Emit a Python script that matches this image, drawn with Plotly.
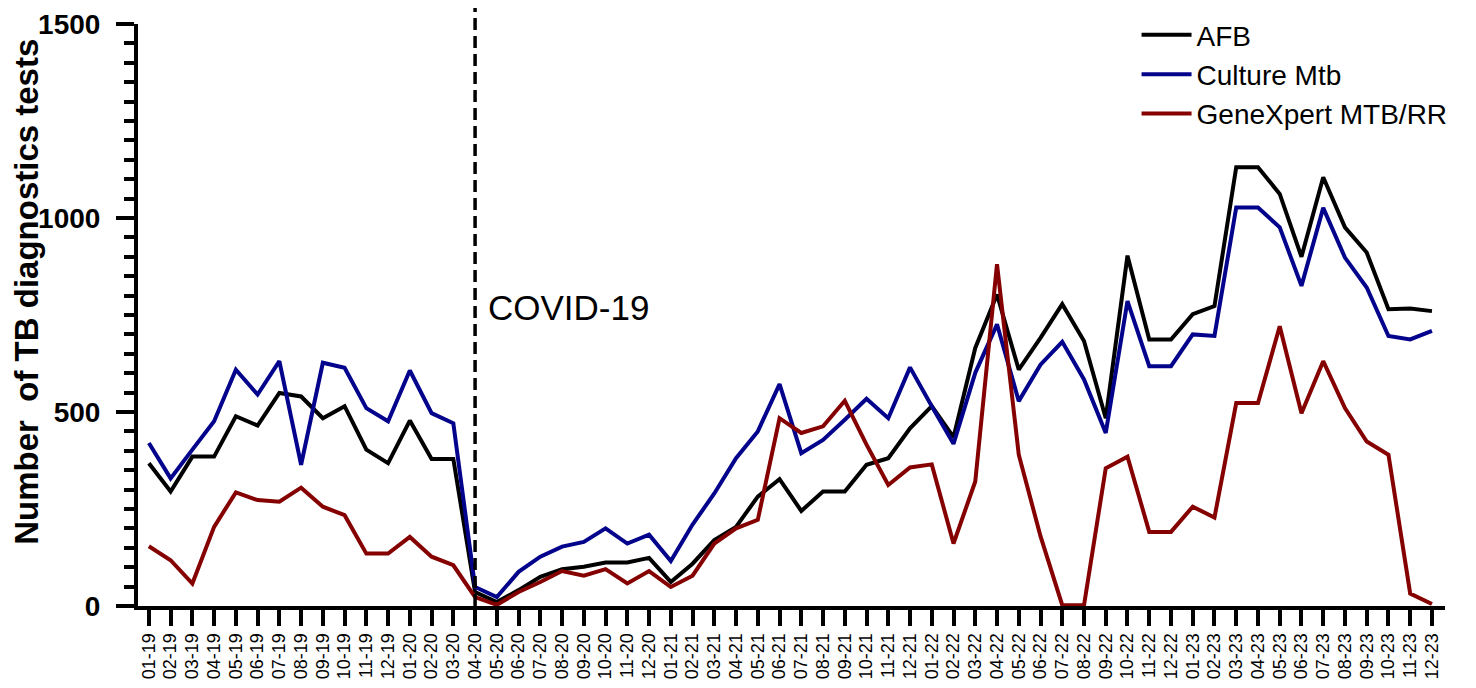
import plotly.graph_objects as go

# months Jan 2019 .. Dec 2023 (MM-YY)
months = [f"{m:02d}-{y}" for y in range(19, 24) for m in range(1, 13)]

afb = [368, 295, 385, 385, 489, 465, 549, 540, 484, 515, 403, 368,
       478, 379, 379, 36, 10, 41, 75, 95, 101, 112, 112, 124,
       62, 109, 170, 204, 282, 327, 245, 295, 295, 364, 381, 458,
       515, 435, 665, 803, 609, 691, 778, 683, 484, 903, 687, 687,
       752, 773, 1131, 1131, 1062, 900, 1105, 976, 911, 765, 767, 760]

culture = [420, 329, 403, 476, 609, 545, 631, 364, 627, 614, 510, 476,
           607, 497, 471, 49, 23, 88, 127, 153, 165, 200, 161, 184,
           116, 210, 290, 381, 450, 572, 394, 428, 480, 534, 484, 615,
           515, 418, 601, 726, 528, 622, 681, 584, 446, 786, 618, 618,
           700, 696, 1027, 1027, 976, 825, 1026, 898, 821, 696, 687, 709]

genexpert = [154, 118, 58, 204, 293, 273, 269, 305, 256, 234, 135, 135,
             178, 127, 105, 23, 3, 36, 62, 90, 78, 95, 58, 90,
             49, 78, 161, 200, 222, 484, 446, 463, 529, 416, 312, 357,
             365, 161, 321, 881, 390, 180, 2, 2, 355, 385, 191, 191,
             256, 228, 523, 523, 721, 497, 631, 510, 424, 390, 32, 5]

covidMonth = "04-20"
covidLabel = "COVID-19"

series = [
    ("AFB", afb, "#000000"),
    ("Culture Mtb", culture, "#03038c"),
    ("GeneXpert MTB/RR", genexpert, "#850000"),
]

font = "Arial, Liberation Sans, sans-serif"

fig = go.Figure()
for name, values, color in series:
    fig.add_trace(go.Scatter(
        x=months, y=values, name=name, mode="lines",
        line=dict(color=color, width=4)
    ))

# dashed marker for the start of the pandemic
covidIdx = months.index(covidMonth)
fig.add_shape(type="line", xref="x", yref="paper",
              x0=covidIdx, x1=covidIdx, y0=0, y1=1.036,
              line=dict(color="black", width=3.5, dash="12px,6px"))

fig.add_annotation(x=covidMonth, y=770, text=covidLabel, showarrow=False,
                   xanchor="left", yanchor="middle", xshift=11,
                   font=dict(size=35, color="black", family=font))

# y title placed by hand (it sits a bit above centre in the original)
fig.add_annotation(xref="paper", yref="paper", x=-0.0849, y=0.54,
                   text="Number\u00a0 of TB diagnostics tests",
                   textangle=-90, showarrow=False,
                   xanchor="center", yanchor="middle",
                   font=dict(size=33, color="black", family=font, weight="bold"))

# page body has an 8px margin, so the figure is 16px smaller than the window
fig.update_layout(
    width=1460, height=672,
    margin=dict(l=130, r=23, t=16, b=74, autoexpand=False),
    paper_bgcolor="white", plot_bgcolor="white",
    font=dict(family=font, color="black"),
    showlegend=True,
    legend=dict(x=0.764, y=1.024, xanchor="left", yanchor="top",
                itemwidth=50,
                bgcolor="rgba(0,0,0,0)", font=dict(size=28, color="black")),
)

fig.update_xaxes(
    type="category", range=[-0.5, 59.6],
    tickmode="linear", tick0=0, dtick=1,
    showgrid=False, zeroline=False, automargin=False,
    showline=True, linewidth=4, linecolor="black",
    ticks="outside", ticklen=16, tickwidth=4, tickcolor="black",
    tickangle=-90, tickfont=dict(size=18, color="black"),
    layer="below traces",
)

fig.update_yaxes(
    range=[0, 1500], tickvals=[0, 500, 1000, 1500],
    showgrid=False, zeroline=False, automargin=False,
    showline=True, linewidth=4, linecolor="black",
    ticks="outside", ticklen=18, tickwidth=4, tickcolor="black",
    ticklabelstandoff=10, ticklabeloverflow="allow",
    tickfont=dict(size=28, color="black", weight="bold"),
    minor=dict(dtick=50, ticks="outside", ticklen=10, tickwidth=4, tickcolor="black"),
    layer="below traces",
)

fig.write_html("out.html")
